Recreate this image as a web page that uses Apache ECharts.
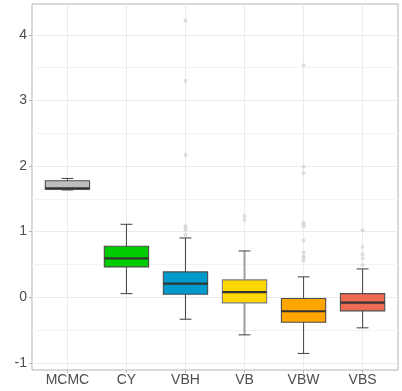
<!DOCTYPE html>
<html>
<head>
<meta charset="utf-8">
<script src="https://cdn.jsdelivr.net/npm/echarts@6/dist/echarts.min.js"></script>
<style>
  html, body { margin: 0; padding: 0; background: #fff; }
  #chart { width: 402px; height: 391px; }
</style>
</head>
<body>
<div id="chart"></div>
<script>
// Methods compared
const categories = ['MCMC', 'CY', 'VBH', 'VB', 'VBW', 'VBS'];

// Five-number summaries (whisker ends, quartiles, median)
const whiskerLow = [1.635, 0.055, -0.336, -0.574, -0.858, -0.467];
const q1         = [1.645, 0.462,  0.045, -0.086, -0.381, -0.208];
const median     = [1.660, 0.593,  0.208,  0.076, -0.214, -0.082];
const q3         = [1.776, 0.776,  0.386,  0.264, -0.021,  0.055];
const whiskerHigh= [1.810, 1.111,  0.903,  0.705,  0.310,  0.431];

// Points beyond the whiskers
const outliers = [
  [],
  [],
  [4.218, 3.300, 2.167, 1.086, 1.055, 1.025, 0.949],
  [1.238, 1.178],
  [3.538, 1.990, 1.893, 1.137, 1.106, 1.076, 0.863, 0.680, 0.619, 0.603, 0.558],
  [1.020, 0.766, 0.655, 0.589, 0.492]
];

// Axis ticks
const yTicks = [-1, 0, 1, 2, 3, 4];
const yMinorTicks = [-0.5, 0.5, 1.5, 2.5, 3.5];
const xTicks = [1, 2, 3, 4, 5, 6];

const fills = ['#bebebe', '#00cd00', '#009acd', '#ffd700', '#ffa500', '#ee6a50'];
const strokes = ['#4d4d4d', '#4d4d4d', '#4d4d4d', '#9e9e9e', '#4d4d4d', '#4d4d4d'];

const boxData = categories.map((c, i) => [i + 1, whiskerLow[i], q1[i], median[i], q3[i], whiskerHigh[i]]);
const pointData = [];
outliers.forEach((arr, i) => arr.forEach(v => pointData.push([i + 1, v])));

const labelColor = '#4d4d4d';
const gridColor = '#ebebeb';

const option = {
  animation: false,
  grid: {
    left: 32, right: 4, top: 4, bottom: 21,
    show: true, borderColor: '#b3b3b3', borderWidth: 1, backgroundColor: 'transparent'
  },
  xAxis: {
    type: 'value', min: 0.4, max: 6.6, position: 'bottom',
    axisLine: { show: false, onZero: false },
    axisTick: { show: true, length: 3, lineStyle: { color: '#b3b3b3' }, customValues: xTicks },
    axisLabel: {
      customValues: xTicks, margin: 3,
      color: labelColor, fontSize: 14, fontFamily: 'Liberation Sans, Arial, sans-serif',
      formatter: v => categories[Math.round(v) - 1] || ''
    },
    splitLine: { show: true, lineStyle: { color: gridColor, width: 1 } }
  },
  yAxis: [{
    type: 'value', min: -1.11, max: 4.47,
    axisLine: { show: false, onZero: false },
    axisTick: { show: true, length: 3, lineStyle: { color: '#b3b3b3' }, customValues: yTicks },
    axisLabel: {
      customValues: yTicks, margin: 5,
      color: labelColor, fontSize: 14, fontFamily: 'Liberation Sans, Arial, sans-serif'
    },
    splitLine: { show: true, lineStyle: { color: gridColor, width: 1 } }
  }, {
    type: 'value', min: -1.11, max: 4.47, position: 'left',
    axisLine: { show: false, onZero: false },
    axisTick: { show: false, customValues: yMinorTicks },
    axisLabel: { show: false, customValues: yMinorTicks },
    splitLine: { show: true, lineStyle: { color: '#f3f3f3', width: 1 } }
  }],
  series: [{
    type: 'scatter',
    data: pointData,
    symbolSize: 4,
    itemStyle: { color: '#d6d6d6' },
    z: 2
  }, {
    type: 'custom',
    data: boxData,
    encode: { x: 0, y: [1, 2, 3, 4, 5] },
    z: 3,
    renderItem: function (params, api) {
      const i = api.value(0);
      const idx = params.dataIndex;
      const halfBox = api.size([0.375, 0])[0];
      const halfCap = api.size([0.1, 0])[0];
      const pLow = api.coord([i, api.value(1)]);
      const pQ1 = api.coord([i, api.value(2)]);
      const pMed = api.coord([i, api.value(3)]);
      const pQ3 = api.coord([i, api.value(4)]);
      const pHigh = api.coord([i, api.value(5)]);
      const cx = pMed[0];
      const stroke = strokes[idx];
      const wWidth = idx === 3 ? 2 : 1.1;
      return {
        type: 'group',
        children: [
          { type: 'line', shape: { x1: cx, y1: pQ3[1], x2: cx, y2: pHigh[1] }, style: { stroke: stroke, lineWidth: wWidth } },
          { type: 'line', shape: { x1: cx, y1: pQ1[1], x2: cx, y2: pLow[1] }, style: { stroke: stroke, lineWidth: wWidth } },
          { type: 'line', shape: { x1: cx - halfCap, y1: pHigh[1], x2: cx + halfCap, y2: pHigh[1] }, style: { stroke: '#4d4d4d', lineWidth: 1.1 } },
          { type: 'line', shape: { x1: cx - halfCap, y1: pLow[1], x2: cx + halfCap, y2: pLow[1] }, style: { stroke: '#4d4d4d', lineWidth: 1.1 } },
          { type: 'rect', shape: { x: cx - halfBox, y: pQ3[1], width: 2 * halfBox, height: pQ1[1] - pQ3[1] },
            style: { fill: fills[idx], stroke: idx === 3 ? '#7a7a7a' : '#4d4d4d', lineWidth: 1.1 } },
          { type: 'line', shape: { x1: cx - halfBox, y1: pMed[1], x2: cx + halfBox, y2: pMed[1] }, style: { stroke: '#333333', lineWidth: 2.2 } }
        ]
      };
    }
  }]
};

const chart = echarts.init(document.getElementById('chart'), null, { renderer: 'canvas' });
chart.setOption(option);
</script>
</body>
</html>
